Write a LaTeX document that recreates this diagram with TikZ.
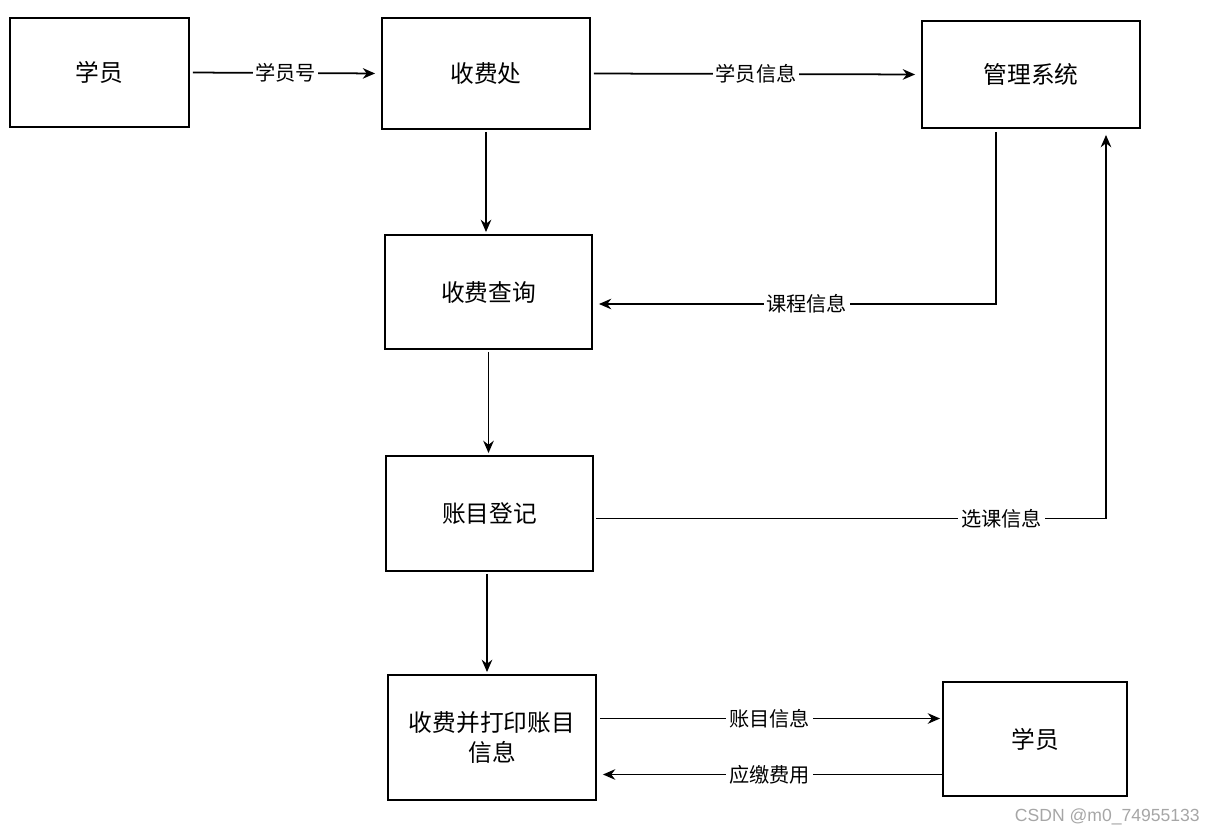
\documentclass[tikz,border=0pt]{standalone}
\usepackage{fontspec}
\setmainfont{Noto Sans CJK SC}
\newfontfamily\wmfont{Liberation Sans}
\usepackage{tikz}
\usetikzlibrary{arrows.meta, positioning}

\tikzset{
    box/.style={draw, line width=1.1pt, fill=white, font=\fontsize{13.5}{17.5}\selectfont, align=center},
    flow/.style={-{Stealth[length=7pt,width=6pt]}, line width=1pt, shorten <=0.06cm, shorten >=0.12cm},
    vflow/.style={flow, shorten <=0.04cm, shorten >=0.04cm},
    lbl/.style={fill=white, inner sep=1.5pt, font=\fontsize{11.5}{13}\selectfont}
}

\begin{document}
\begin{tikzpicture}[x=0.02cm, y=-0.02cm]
    \useasboundingbox (0,0) rectangle (1219,835);

    % Các khối
    \node[box, minimum width=3.58cm, minimum height=2.18cm] (xy1) at (99.5,72.5) {学员};
    \node[box, minimum width=4.16cm, minimum height=2.22cm] (sfc) at (486,73.5) {收费处};
    \node[box, minimum width=4.36cm, minimum height=2.14cm] (glxt) at (1031,74.5) {管理系统};
    \node[box, minimum width=4.14cm, minimum height=2.28cm] (sfcx) at (488.5,292) {收费查询};
    \node[box, minimum width=4.14cm, minimum height=2.30cm] (zmdj) at (489.5,513.5) {账目登记};
    \node[box, minimum width=4.16cm, minimum height=2.50cm] (sfdy) at (492,737.5) {收费并打印账目\\信息};
    \node[box, minimum width=3.68cm, minimum height=2.28cm] (xy2) at (1035,739) {学员};

    % Hàng trên
    \draw[flow] (xy1.east) -- (sfc.west) node[lbl, midway] {学员号};
    \draw[flow] (sfc.east) -- (glxt.west) node[lbl, midway] {学员信息};

    % Cột giữa
    \draw[vflow] (sfc.south) -- (sfc.south |- sfcx.north);
    \draw[vflow] (sfcx.south) -- (sfcx.south |- zmdj.north);
    \draw[vflow] ([xshift=-0.05cm]zmdj.south) -- ([xshift=-0.05cm]zmdj.south |- sfdy.north);

    % Đường gấp khúc
    \draw[flow] ([xshift=-0.7cm]glxt.south) |- ([yshift=-0.24cm]sfcx.east)
        node[lbl, pos=0.735] {课程信息};
    \draw[flow, shorten <=0.05cm] ([yshift=-0.1cm]zmdj.east) -| ([xshift=1.5cm]glxt.south)
        node[lbl, pos=0.398] {选课信息};

    % Hàng dưới
    \draw[flow, shorten >=0.04cm] ([yshift=0.38cm]sfdy.east) -- ([yshift=0.38cm]sfdy.east -| xy2.west)
        node[lbl, midway] {账目信息};
    \draw[flow, shorten <=0pt] ([yshift=-0.74cm]sfdy.east -| xy2.west) -- ([yshift=-0.74cm]sfdy.east)
        node[lbl, midway] {应缴费用};

    \node[anchor=east, text=black!35, font=\wmfont\fontsize{10}{12}\selectfont] (wm) at (1206,817) {CSDN @m0\_74955133};
\end{tikzpicture}
\end{document}
